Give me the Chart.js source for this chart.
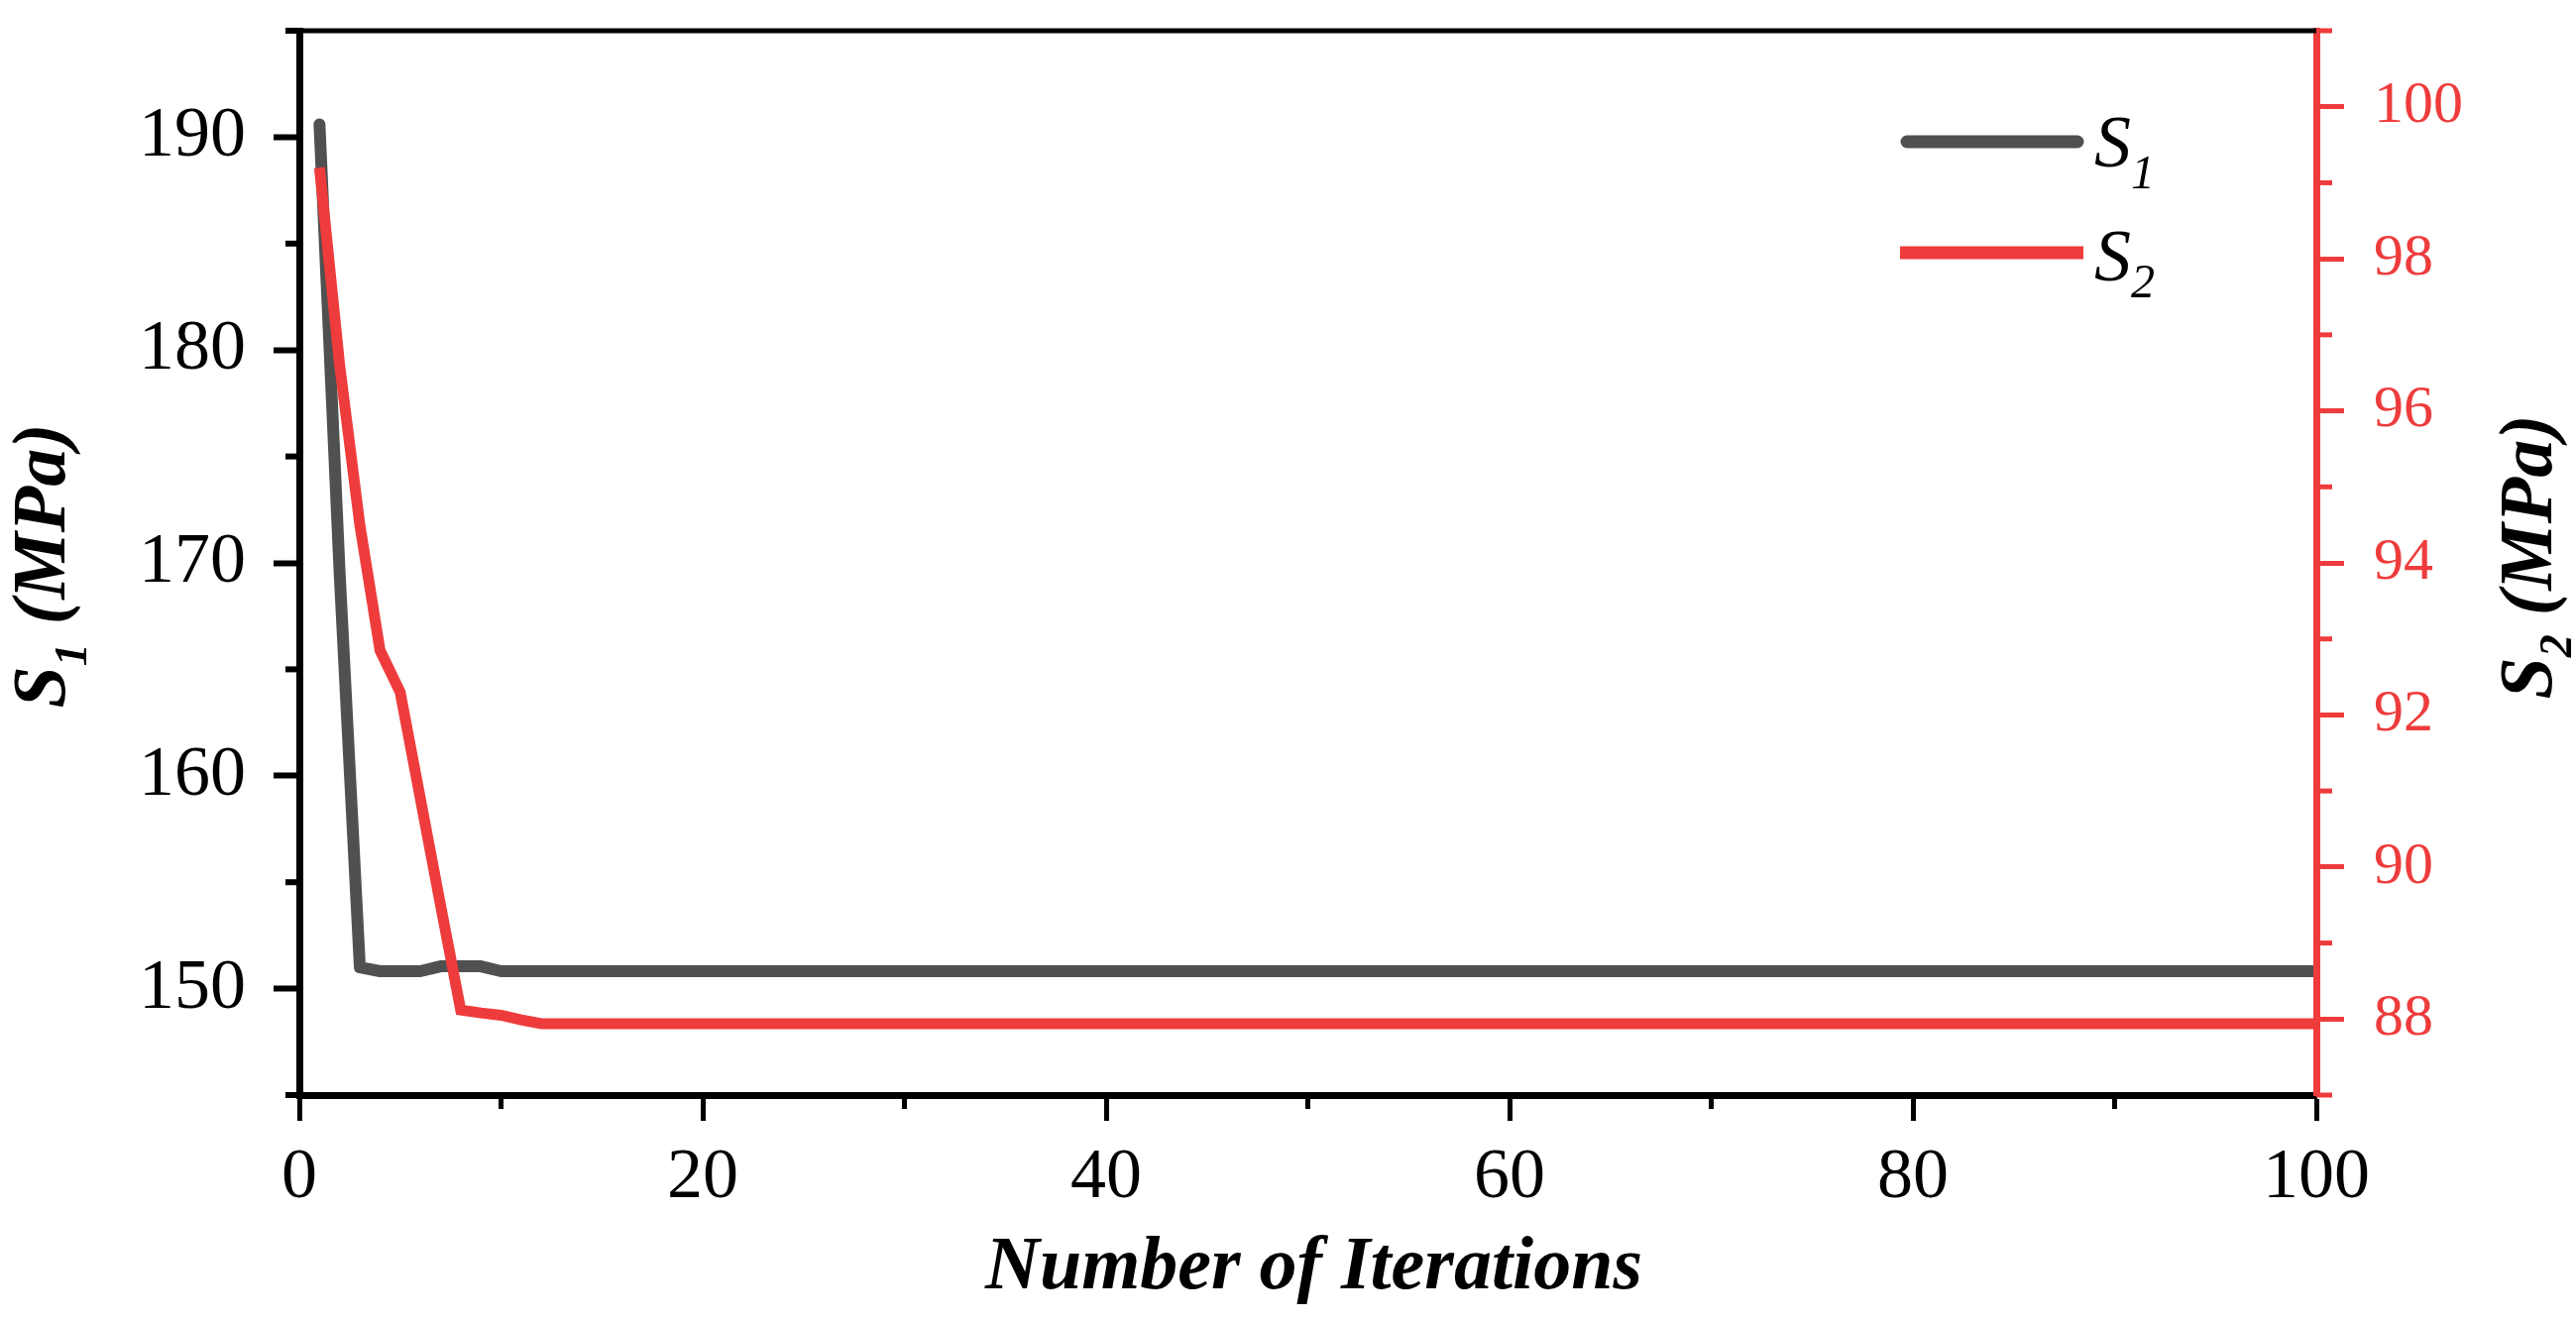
<!DOCTYPE html>
<html>
<head>
<meta charset="utf-8">
<script src="https://cdn.jsdelivr.net/npm/chart.js@4.4.1/dist/chart.umd.min.js"></script>
<style>
  html, body { margin: 0; padding: 0; background: #fff; }
  #wrap { width: 2599px; height: 1335px; }
</style>
</head>
<body>
<div id="wrap"><canvas id="chart" width="2599" height="1335"></canvas></div>
<script>
// iteration index 1..100
const iterations = Array.from({ length: 100 }, (_, i) => i + 1);

// S1 (MPa), left axis
const s1Values = [
  190.6, 169.5, 151.0, 150.82, 150.82, 150.82, 151.05, 151.05, 151.05, 150.82,
  150.82, 150.82, 150.82, 150.82, 150.82, 150.82, 150.82, 150.82, 150.82, 150.82,
  150.82, 150.82, 150.82, 150.82, 150.82, 150.82, 150.82, 150.82, 150.82, 150.82,
  150.82, 150.82, 150.82, 150.82, 150.82, 150.82, 150.82, 150.82, 150.82, 150.82,
  150.82, 150.82, 150.82, 150.82, 150.82, 150.82, 150.82, 150.82, 150.82, 150.82,
  150.82, 150.82, 150.82, 150.82, 150.82, 150.82, 150.82, 150.82, 150.82, 150.82,
  150.82, 150.82, 150.82, 150.82, 150.82, 150.82, 150.82, 150.82, 150.82, 150.82,
  150.82, 150.82, 150.82, 150.82, 150.82, 150.82, 150.82, 150.82, 150.82, 150.82,
  150.82, 150.82, 150.82, 150.82, 150.82, 150.82, 150.82, 150.82, 150.82, 150.82,
  150.82, 150.82, 150.82, 150.82, 150.82, 150.82, 150.82, 150.82, 150.82, 150.82
];

// S2 (MPa), right axis
const s2Values = [
  99.2, 96.6, 94.5, 92.85, 92.3, 90.9, 89.5, 88.12, 88.08, 88.05,
  87.99, 87.94, 87.94, 87.94, 87.94, 87.94, 87.94, 87.94, 87.94, 87.94,
  87.94, 87.94, 87.94, 87.94, 87.94, 87.94, 87.94, 87.94, 87.94, 87.94,
  87.94, 87.94, 87.94, 87.94, 87.94, 87.94, 87.94, 87.94, 87.94, 87.94,
  87.94, 87.94, 87.94, 87.94, 87.94, 87.94, 87.94, 87.94, 87.94, 87.94,
  87.94, 87.94, 87.94, 87.94, 87.94, 87.94, 87.94, 87.94, 87.94, 87.94,
  87.94, 87.94, 87.94, 87.94, 87.94, 87.94, 87.94, 87.94, 87.94, 87.94,
  87.94, 87.94, 87.94, 87.94, 87.94, 87.94, 87.94, 87.94, 87.94, 87.94,
  87.94, 87.94, 87.94, 87.94, 87.94, 87.94, 87.94, 87.94, 87.94, 87.94,
  87.94, 87.94, 87.94, 87.94, 87.94, 87.94, 87.94, 87.94, 87.94, 87.94
];

const xTicks = [0, 20, 40, 60, 80, 100];
const xMinorTicks = [10, 30, 50, 70, 90];
const s1Ticks = [150, 160, 170, 180, 190];
const s1MinorTicks = [145, 155, 165, 175, 185, 195];
const s2Ticks = [88, 90, 92, 94, 96, 98, 100];
const s2MinorTicks = [87, 89, 91, 93, 95, 97, 99, 101];

const GRAY = '#505050';
const RED = '#EE3C3C';
const SERIF = '"Liberation Serif", "Times New Roman", serif';

// draws a run of text pieces (for subscripts)
function drawParts(ctx, parts, x, y, align) {
  let total = 0;
  parts.forEach(p => {
    ctx.font = p.font;
    p.w = ctx.measureText(p.text).width;
    total += p.w;
  });
  let cx = align === 'center' ? x - total / 2 : x;
  parts.forEach(p => {
    ctx.font = p.font;
    ctx.fillText(p.text, cx, y + (p.dy || 0));
    cx += p.w;
  });
}

const decorPlugin = {
  id: 'decor',
  afterDraw(chart) {
    const ctx = chart.ctx;
    const area = chart.chartArea;
    const xs = chart.scales.x, yl = chart.scales.yL, yr = chart.scales.yR;

    ctx.save();
    // top frame
    ctx.strokeStyle = '#000';
    ctx.lineWidth = 5;
    ctx.beginPath();
    ctx.moveTo(area.left - 3, area.top);
    ctx.lineTo(area.right, area.top);
    ctx.stroke();

    // minor ticks
    ctx.lineWidth = 5;
    xMinorTicks.forEach(v => {
      const px = xs.getPixelForValue(v);
      ctx.beginPath();
      ctx.moveTo(px, area.bottom);
      ctx.lineTo(px, area.bottom + 14);
      ctx.stroke();
    });
    ctx.lineWidth = 6;
    s1MinorTicks.forEach(v => {
      const py = yl.getPixelForValue(v);
      ctx.beginPath();
      ctx.moveTo(area.left - 14, py);
      ctx.lineTo(area.left, py);
      ctx.stroke();
    });
    ctx.strokeStyle = RED;
    ctx.lineWidth = 5;
    s2MinorTicks.forEach(v => {
      const py = yr.getPixelForValue(v);
      ctx.beginPath();
      ctx.moveTo(area.right, py);
      ctx.lineTo(area.right + 16, py);
      ctx.stroke();
    });

    // axis titles
    ctx.fillStyle = '#000';
    ctx.textBaseline = 'alphabetic';
    const tFont = 'italic bold 76px ' + SERIF;
    const sFont = 'italic bold 46px ' + SERIF;

    drawParts(ctx, [{ text: 'Number of Iterations', font: tFont }], (area.left + area.right) / 2 + 6, 1300, 'center');

    ctx.save();
    ctx.translate(65, 571);
    ctx.rotate(-Math.PI / 2);
    drawParts(ctx, [
      { text: 'S', font: tFont },
      { text: '1', font: sFont, dy: 22 },
      { text: ' (MPa)', font: tFont }
    ], 0, 0, 'center');
    ctx.restore();

    ctx.save();
    ctx.translate(2574, 562);
    ctx.rotate(-Math.PI / 2);
    drawParts(ctx, [
      { text: 'S', font: tFont },
      { text: '2', font: sFont, dy: 20 },
      { text: ' (MPa)', font: tFont }
    ], 0, 0, 'center');
    ctx.restore();

    // legend
    ctx.lineWidth = 13;
    ctx.strokeStyle = GRAY;
    ctx.lineCap = 'round';
    ctx.beginPath();
    ctx.moveTo(1924, 143);
    ctx.lineTo(2096, 143);
    ctx.stroke();
    ctx.strokeStyle = RED;
    ctx.lineCap = 'butt';
    ctx.beginPath();
    ctx.moveTo(1917, 255);
    ctx.lineTo(2102, 255);
    ctx.stroke();

    const lFont = 'italic 74px ' + SERIF;
    const lsFont = 'italic 48px ' + SERIF;
    drawParts(ctx, [{ text: 'S', font: lFont }, { text: '1', font: lsFont, dy: 22 }], 2113, 168, 'left');
    drawParts(ctx, [{ text: 'S', font: lFont }, { text: '2', font: lsFont, dy: 17 }], 2113, 283, 'left');
    ctx.restore();
  }
};

new Chart(document.getElementById('chart'), {
  type: 'line',
  data: {
    datasets: [
      {
        label: 'S1',
        data: iterations.map((x, i) => ({ x: x, y: s1Values[i] })),
        yAxisID: 'yL',
        borderColor: GRAY,
        borderWidth: 12,
        borderCapStyle: 'round',
        borderJoinStyle: 'round',
        order: 1
      },
      {
        label: 'S2',
        data: iterations.map((x, i) => ({ x: x, y: s2Values[i] })),
        yAxisID: 'yR',
        borderColor: RED,
        borderWidth: 11,
        order: 0
      }
    ]
  },
  options: {
    responsive: false,
    devicePixelRatio: 1,
    animation: false,
    layout: { padding: { top: 31, left: 0, right: 0, bottom: 0 } },
    plugins: { legend: { display: false }, tooltip: { enabled: false } },
    elements: { point: { radius: 0 }, line: { tension: 0 } },
    scales: {
      x: {
        type: 'linear',
        position: 'bottom',
        min: 0,
        max: 100,
        afterBuildTicks: s => { s.ticks = xTicks.map(v => ({ value: v })); },
        afterFit: s => { s.height = 230; s.paddingLeft = 0; s.paddingRight = 0; },
        grid: { drawOnChartArea: false, drawTicks: true, tickLength: 26, tickWidth: 5, tickColor: '#000' },
        border: { display: true, color: '#000', width: 7, z: 1 },
        ticks: { font: { family: SERIF, size: 72 }, color: '#000', padding: 15, maxRotation: 0, autoSkip: false }
      },
      yL: {
        type: 'linear',
        position: 'left',
        min: 145,
        max: 195,
        afterBuildTicks: s => { s.ticks = s1Ticks.map(v => ({ value: v })); },
        afterFit: s => { s.width = 302; s.paddingTop = 0; s.paddingBottom = 0; },
        grid: { drawOnChartArea: false, drawTicks: true, tickLength: 26, tickWidth: 6, tickColor: '#000' },
        border: { display: true, color: '#000', width: 7, z: 1 },
        ticks: { font: { family: SERIF, size: 72 }, color: '#000', padding: 28, autoSkip: false }
      },
      yR: {
        type: 'linear',
        position: 'right',
        min: 87,
        max: 101,
        afterBuildTicks: s => { s.ticks = s2Ticks.map(v => ({ value: v })); },
        afterFit: s => { s.width = 262; s.paddingTop = 0; s.paddingBottom = 0; },
        grid: { drawOnChartArea: false, drawTicks: true, tickLength: 28, tickWidth: 5, tickColor: RED },
        border: { display: true, color: RED, width: 7, z: 1 },
        ticks: { font: { family: SERIF, size: 60 }, color: RED, padding: 30, autoSkip: false }
      }
    }
  },
  plugins: [decorPlugin]
});
</script>
</body>
</html>
